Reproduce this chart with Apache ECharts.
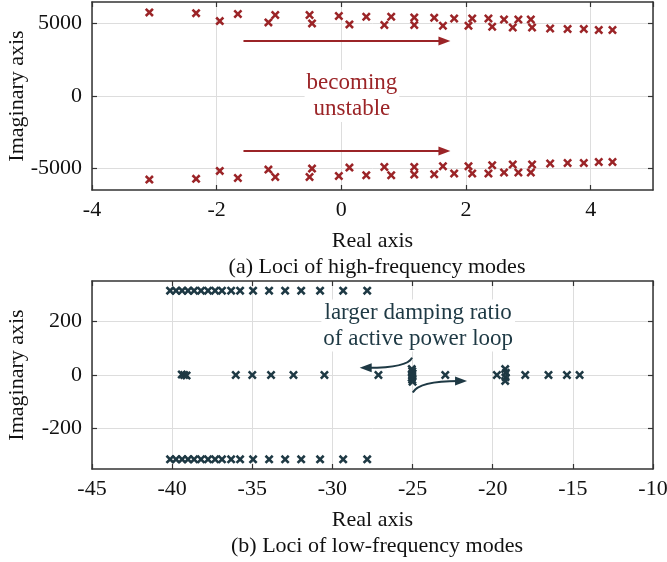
<!DOCTYPE html>
<html><head><meta charset="utf-8">
<script src="https://cdn.jsdelivr.net/npm/echarts@6/dist/echarts.min.js"></script>
<style>html,body{margin:0;padding:0;background:#fff}#c{width:667px;height:562px}</style>
</head><body><div id="c"></div>
<script>
// ---------- (a) high-frequency modes ----------
const hfReal = [-3.08, -2.33, -1.95, -1.66, -1.17, -1.06, -0.51, -0.47, -0.04, 0.13, 0.40, 0.69, 0.80, 1.17, 1.17, 1.49, 1.63, 1.81, 2.04, 2.10, 2.36, 2.42, 2.61, 2.75, 2.84, 3.04, 3.06, 3.35, 3.63, 3.89, 4.13, 4.35];
const hfImagUpper = [5780, 5730, 5180, 5670, 5090, 5600, 5600, 5020, 5530, 4950, 5480, 4910, 5480, 5430, 4910, 5410, 4860, 5360, 4860, 5360, 5360, 4790, 5290, 4740, 5290, 5290, 4740, 4670, 4630, 4630, 4560, 4560];
const hfImagLower = [-5780, -5730, -5180, -5670, -5090, -5600, -5600, -5020, -5530, -4950, -5480, -4910, -5480, -5430, -4910, -5410, -4860, -5360, -4860, -5360, -5360, -4790, -5290, -4740, -5290, -5290, -4740, -4670, -4630, -4630, -4560, -4560];
const hfXTicks = [-4, -2, 0, 2, 4];
const hfYTicks = [-5000, 0, 5000];

// ---------- (b) low-frequency modes ----------
const lfOuterReal = [-40.13, -39.76, -39.38, -39.01, -38.63, -38.20, -37.76, -37.32, -36.89, -36.32, -35.76, -34.95, -33.95, -32.95, -31.95, -30.77, -29.33, -27.83];
const lfOuterImagUpper = [314, 314, 314, 314, 314, 314, 314, 314, 314, 314, 314, 314, 314, 314, 314, 314, 314, 314];
const lfOuterImagLower = [-314, -314, -314, -314, -314, -314, -314, -314, -314, -314, -314, -314, -314, -314, -314, -314, -314, -314];
const lfInnerReal = [-39.40, -39.25, -39.10, -36.03, -35.00, -33.83, -32.43, -30.50, -27.13,
  -25.05, -25.02, -25.00, -25.03, -25.05, -25.02, -25.00,
  -22.96, -19.74, -19.22, -19.18, -19.20, -19.22, -17.97, -16.52, -15.37, -14.58];
const lfInnerImag = [2, 0, -2, 0, 0, 0, 0, 0, 0,
  22, 14, 6, -2, -10, -18, -25,
  0, 0, 22, 8, -8, -22, 0, 0, 0, 0];
const lfXTicks = [-45, -40, -35, -30, -25, -20, -15, -10];
const lfYTicks = [-200, 0, 200];

// ---------- annotation anchors (data coords) ----------
const hfArrowX = [-1.57, 1.75];
const hfArrowY = [3800, -3800];
const hfLabelPos = [0.17, 0];
const lfLabelPos = [-24.65, 184];

const FONT = '"Liberation Serif", "Times New Roman", serif';
const RED = '#9b2427';
const SLATE = '#1e3944';
const AX = '#333333';
const GRID = '#dddddd';
const CROSS = 'path://M2,0L5,3L8,0L10,2L7,5L10,8L8,10L5,7L2,10L0,8L3,5L0,2Z';
const fmt = v => String(v);

function pts(xs, ys) { return xs.map((x, i) => [x, ys[i]]); }

function mainX(gi, min, max, interval, name, showMax) {
  return {
    type: 'value', gridIndex: gi, position: 'bottom', min, max, interval,
    name, nameLocation: 'middle', nameGap: 40, nameMoveOverlap: false,
    nameTextStyle: { fontFamily: FONT, fontSize: 22, color: '#111' },
    axisLine: { show: true, onZero: false, lineStyle: { color: AX, width: 1.5 } },
    axisTick: { show: true, inside: true, length: 5, lineStyle: { color: AX, width: 1.2 } },
    axisLabel: { fontFamily: FONT, fontSize: 22, color: '#111', margin: 9, showMaxLabel: showMax, showMinLabel: true, formatter: fmt },
    splitLine: { show: true, lineStyle: { color: GRID, width: 1 } }
  };
}
function mirrorX(gi, min, max, interval) {
  return {
    type: 'value', gridIndex: gi, position: 'top', min, max, interval,
    axisLine: { show: true, onZero: false, lineStyle: { color: AX, width: 1.5 } },
    axisTick: { show: true, inside: true, length: 5, lineStyle: { color: AX, width: 1.2 } },
    axisLabel: { show: false }, splitLine: { show: false }
  };
}
function mainY(gi, min, max, ticks, name) {
  return {
    type: 'value', gridIndex: gi, position: 'left', min, max,
    name, nameLocation: 'middle', nameGap: 64, nameRotate: 90, nameMoveOverlap: false,
    nameTextStyle: { fontFamily: FONT, fontSize: 22, color: '#111' },
    axisLine: { show: true, onZero: false, lineStyle: { color: AX, width: 1.5 } },
    axisTick: { show: true, inside: true, length: 5, customValues: ticks, lineStyle: { color: AX, width: 1.2 } },
    axisLabel: { fontFamily: FONT, fontSize: 22, color: '#111', margin: 10, customValues: ticks, formatter: fmt },
    splitLine: { show: true, lineStyle: { color: GRID, width: 1 } }
  };
}
function mirrorY(gi, min, max, ticks) {
  return {
    type: 'value', gridIndex: gi, position: 'right', min, max,
    axisLine: { show: true, onZero: false, lineStyle: { color: AX, width: 1.5 } },
    axisTick: { show: true, inside: true, length: 5, customValues: ticks, lineStyle: { color: AX, width: 1.2 } },
    axisLabel: { show: false, customValues: ticks }, splitLine: { show: false }
  };
}
function scatter(xi, yi, data, color) {
  return {
    type: 'scatter', xAxisIndex: xi, yAxisIndex: yi, data,
    symbol: CROSS, symbolSize: 9, itemStyle: { color, opacity: 1 },
    silent: true, animation: false, z: 5
  };
}

const chart = echarts.init(document.getElementById('c'), null, { renderer: 'canvas' });
chart.setOption({
  animation: false,
  backgroundColor: '#ffffff',
  grid: [
    { left: 92, top: 2, width: 561, height: 188, containLabel: false, outerBoundsMode: 'none' },
    { left: 92, top: 281, width: 561, height: 188, containLabel: false, outerBoundsMode: 'none' }
  ],
  title: [
    { text: '(a) Loci of high-frequency modes', left: 372, top: 251, textAlign: 'center',
      textStyle: { fontFamily: FONT, fontSize: 22, fontWeight: 'normal', color: '#111' } },
    { text: '(b) Loci of low-frequency modes', left: 372, top: 530, textAlign: 'center',
      textStyle: { fontFamily: FONT, fontSize: 22, fontWeight: 'normal', color: '#111' } }
  ],
  xAxis: [
    mainX(0, -4, 5, 2, 'Real axis', false), mirrorX(0, -4, 5, 2),
    mainX(1, -45, -10, 5, 'Real axis', true), mirrorX(1, -45, -10, 5)
  ],
  yAxis: [
    mainY(0, -6500, 6500, hfYTicks, 'Imaginary axis'), mirrorY(0, -6500, 6500, hfYTicks),
    mainY(1, -350, 350, lfYTicks, 'Imaginary axis'), mirrorY(1, -350, 350, lfYTicks)
  ],
  series: [
    scatter(0, 0, pts(hfReal, hfImagUpper), RED),
    scatter(0, 0, pts(hfReal, hfImagLower), RED),
    scatter(2, 2, pts(lfOuterReal, lfOuterImagUpper), SLATE),
    scatter(2, 2, pts(lfOuterReal, lfOuterImagLower), SLATE),
    scatter(2, 2, pts(lfInnerReal, lfInnerImag), SLATE)
  ]
});

// ---------- annotations ----------
function P(g, p) { return chart.convertToPixel({ gridIndex: g }, p); }
function head(tip, from, color) {
  const dx = tip[0] - from[0], dy = tip[1] - from[1];
  const L = Math.hypot(dx, dy) || 1, ux = dx / L, uy = dy / L;
  const len = 12, hw = 4.5;
  const bx = tip[0] - ux * len, by = tip[1] - uy * len;
  return { type: 'polygon', z: 20, silent: true,
    shape: { points: [tip, [bx - uy * hw, by + ux * hw], [bx + uy * hw, by - ux * hw]] },
    style: { fill: color } };
}
const g = [];
hfArrowY.forEach(y => {
  const a = P(0, [hfArrowX[0], y]), b = P(0, [hfArrowX[1], y]);
  g.push({ type: 'line', z: 20, silent: true, shape: { x1: a[0], y1: a[1], x2: b[0] - 8, y2: b[1] },
    style: { stroke: RED, lineWidth: 2 } });
  g.push(head(b, a, RED));
});
const tp = P(0, hfLabelPos);
g.push({ type: 'text', x: tp[0], y: tp[1], z: 15, silent: true,
  style: { text: 'becoming\nunstable', font: '23px ' + FONT, fill: RED, align: 'center', verticalAlign: 'middle',
    lineHeight: 26, backgroundColor: '#ffffff', padding: [0, 2] } });
const lp = P(1, lfLabelPos);
g.push({ type: 'text', x: lp[0], y: lp[1], z: 15, silent: true,
  style: { text: 'larger damping ratio\nof active power loop', font: '23px ' + FONT, fill: SLATE, align: 'center', verticalAlign: 'middle',
    lineHeight: 26, backgroundColor: '#ffffff', padding: [0, 2] } });
// curved arrow to the left
{
  const s = P(1, [-25.03, 65]), c = P(1, [-25.3, 27]), t = P(1, [-28.3, 27]);
  g.push({ type: 'bezierCurve', z: 20, silent: true,
    shape: { x1: s[0], y1: s[1], cpx1: c[0], cpy1: c[1], x2: t[0] + 8, y2: t[1] },
    style: { stroke: SLATE, lineWidth: 2, fill: 'none' } });
  g.push(head(t, [t[0] + 10, t[1]], SLATE));
}
// curved arrow to the right
{
  const s = P(1, [-24.99, -65]), c = P(1, [-24.6, -22]), t = P(1, [-21.6, -22]);
  g.push({ type: 'bezierCurve', z: 20, silent: true,
    shape: { x1: s[0], y1: s[1], cpx1: c[0], cpy1: c[1], x2: t[0] - 8, y2: t[1] },
    style: { stroke: SLATE, lineWidth: 2, fill: 'none' } });
  g.push(head(t, [t[0] - 10, t[1]], SLATE));
}
chart.setOption({ graphic: g });
</script></body></html>
